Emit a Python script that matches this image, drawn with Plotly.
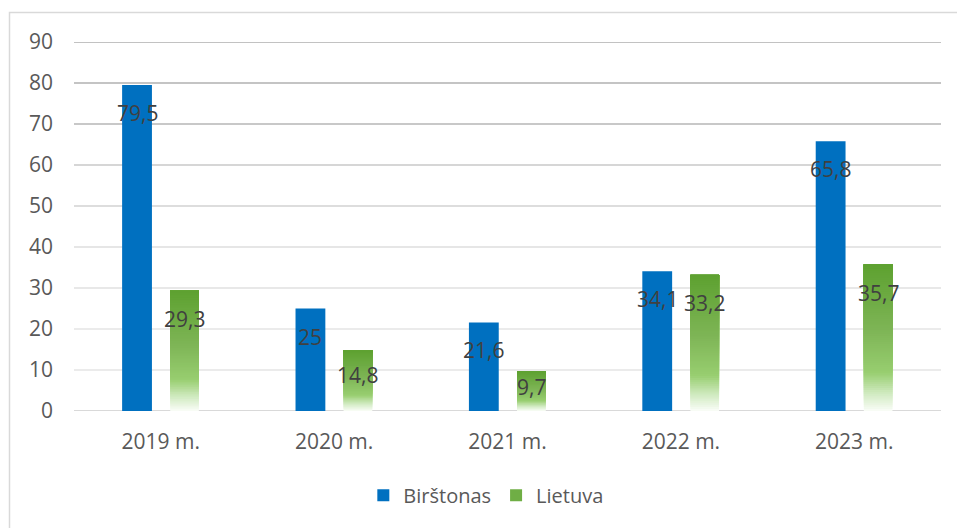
import plotly.graph_objects as go

categories = ["2019 m.", "2020 m.", "2021 m.", "2022 m.", "2023 m."]
birstonas = [79.5, 25, 21.6, 34.1, 65.8]
lietuva = [29.3, 14.8, 9.7, 33.2, 35.7]
y_ticks = [0, 10, 20, 30, 40, 50, 60, 70, 80, 90]
series_names = ["Birštonas", "Lietuva"]

BLUE = "#0070C0"
FONT = "Open Sans"
W, H = 957, 528
ML, MR, MT, MB = 74, 16, 42, 117
PW, PH = W - ML - MR, H - MT - MB
YMAX = 90
PX_PER_UNIT = PH / YMAX

BW_B = 0.172
BW_G = 0.165
OFF_B = -0.2225
OFF_G = 0.055

# gradient stops (fraction from bottom, rgb)
stops = [(0.0, (250, 253, 248)), (0.12, (208, 234, 192)), (0.26, (152, 206, 112)),
         (0.55, (126, 181, 86)), (1.0, (93, 161, 48))]


def grad(t):
    for (t0, c0), (t1, c1) in zip(stops[:-1], stops[1:]):
        if t <= t1:
            f = (t - t0) / (t1 - t0) if t1 > t0 else 0
            return "rgb(%d,%d,%d)" % tuple(round(a + (b - a) * f) for a, b in zip(c0, c1))
    return "rgb(%d,%d,%d)" % stops[-1][1]


fig = go.Figure()

fig.add_trace(go.Bar(x=categories, y=birstonas, name=series_names[0],
                     marker=dict(color=BLUE, line=dict(width=0)),
                     width=BW_B, offset=OFF_B, hoverinfo="skip"))

N = 70
for i in range(N):
    frac = i / N
    fig.add_trace(go.Bar(
        x=categories, y=[v * (1 - frac) for v in lietuva], base=[v * frac for v in lietuva],
        marker=dict(color=grad((i + 0.5) / N), line=dict(width=0)),
        width=BW_G, offset=OFF_G, showlegend=False, hoverinfo="skip"))

# legend entry for Lietuva
fig.add_trace(go.Bar(x=[None], y=[None], name=series_names[1],
                     marker=dict(color="#6FAE45", line=dict(width=0))))

annotations = []
for idx, cat in enumerate(categories):
    for vals, off, bw in ((birstonas, OFF_B, BW_B), (lietuva, OFF_G, BW_G)):
        v = vals[idx]
        shift = min(28, 0.4 * v * PX_PER_UNIT)
        annotations.append(dict(
            x=idx + off + bw / 2, y=v, xref="x", yref="y",
            text=str(v).replace(".", ","), showarrow=False,
            yshift=-shift, yanchor="middle", xanchor="center",
            font=dict(family=FONT, size=21, color="#404040")))

grid_colors = ["#D9D9D9", "#EBEBEB", "#EBEBEB", "#E8E8E8", "#E6E6E6",
               "#DDDDDD", "#D6D6D6", "#C8C8C8", "#C4C4C4", "#C2C2C2"]
shapes = []
for t, c in zip(y_ticks, grid_colors):
    shapes.append(dict(type="line", xref="paper", yref="y", x0=0, x1=1, y0=t, y1=t,
                       line=dict(color=c, width=2), layer="below"))

# outer chart border (top and left visible)
shapes.append(dict(type="rect", xref="paper", yref="paper",
                   x0=(9.5 - ML) / PW, x1=(W + 20 - ML) / PW,
                   y0=-(H + 20 - MT - PH) / PH, y1=(MT - 12.5) / PH + 1,
                   line=dict(color="#D9D9D9", width=1.5), layer="below"))

fig.update_layout(
    width=W, height=H,
    margin=dict(l=ML, r=MR, t=MT, b=MB),
    barmode="overlay",
    paper_bgcolor="white", plot_bgcolor="white",
    font=dict(family=FONT, size=21, color="#595959"),
    showlegend=True,
    legend=dict(orientation="h", x=0.475, xanchor="center", y=-0.228, yanchor="middle",
                font=dict(family=FONT, size=20, color="#595959"), itemwidth=30,
                traceorder="normal"),
    xaxis=dict(showgrid=False, zeroline=False, showline=False, ticks="",
               tickfont=dict(family=FONT, size=21, color="#595959"),
               range=[-0.5, 4.5], ticklabelstandoff=16),
    yaxis=dict(range=[0, YMAX], tickvals=y_ticks, showgrid=False, zeroline=False,
               showline=False, ticks="", tickfont=dict(family=FONT, size=21, color="#595959"),
               ticklabelstandoff=20),
    annotations=annotations,
    shapes=shapes,
)

fig.write_html("out.html", config={"displayModeBar": False},
               post_script="document.body.style.margin='0px';document.body.style.padding='0px';")
